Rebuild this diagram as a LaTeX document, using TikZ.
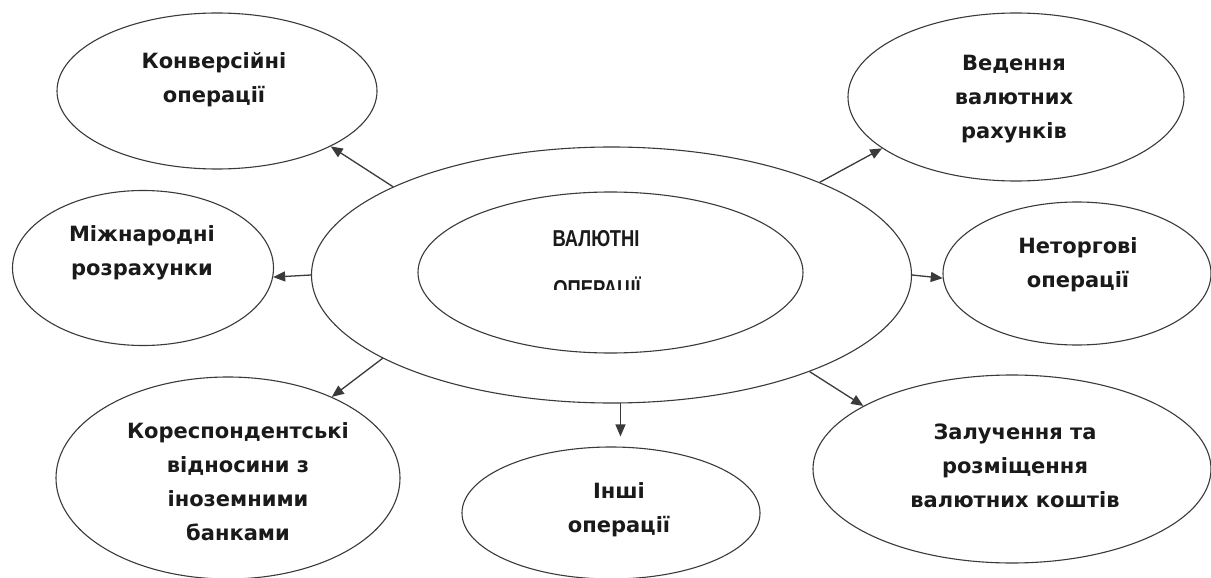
\documentclass[tikz,border=0pt]{standalone}
\usepackage{fontspec}
\setmainfont{DejaVu Sans}
\newfontfamily\ctrfont{Liberation Sans}[FakeStretch=0.8]
\usetikzlibrary{shapes.geometric,arrows.meta}
\definecolor{linegray}{HTML}{3A3A3A}
\definecolor{txt}{HTML}{1A1A1A}
\tikzset{
  oval/.style={ellipse, draw=linegray, line width=1.1pt, inner sep=0pt},
  lbl/.style={font=\fontsize{21}{34}\selectfont\bfseries, align=center, text=txt, inner sep=0pt},
  ctr/.style={font=\fontsize{23}{28}\selectfont\ctrfont\bfseries, text=txt, inner sep=0pt},
  arr/.style={draw=linegray, line width=1.3pt, -{Triangle[length=12pt,width=10pt]}}
}
\begin{document}
\begin{tikzpicture}[x=1pt,y=-1pt]
\useasboundingbox[fill=white] (0,0) rectangle (1211,578);
% ellipses
\node[oval, minimum width=600pt, minimum height=256pt] (outer) at (611.5,275) {};
\node[oval, minimum width=385pt, minimum height=161pt] (inner) at (610.5,272.5) {};
\node[oval, minimum width=320pt, minimum height=156pt] (konv) at (217,91) {};
\node[oval, minimum width=336pt, minimum height=168pt] (ved) at (1016,97) {};
\node[oval, minimum width=261pt, minimum height=155pt] (mizh) at (143,268) {};
\node[oval, minimum width=268pt, minimum height=143pt] (net) at (1077,273.5) {};
\node[oval, minimum width=344pt, minimum height=202pt] (kor) at (228,478) {};
\node[oval, minimum width=298pt, minimum height=132pt] (inshi) at (611,513) {};
\node[oval, minimum width=398pt, minimum height=188pt] (zal) at (1012,469) {};
% texts
\node[ctr] (t-ctr1) at (596,239) {ВАЛЮТНІ};
\begin{scope}
  \clip (540,260) rectangle (660,289);
  \node[ctr, anchor=base] (t-ctr2) at (597,296.5) {ОПЕРАЦІЇ};
\end{scope}
\node[lbl] (t-konv) at (214,80) {Конверсійні\\операції};
\node[lbl] (t-ved) at (1014,99) {Ведення\\валютних\\рахунків};
\node[lbl] (t-mizh) at (142,253) {Міжнародні\\розрахунки};
\node[lbl] (t-net) at (1078,265) {Неторгові\\операції};
\node[lbl] (t-kor) at (238,482) {Кореспондентські\\відносини з\\іноземними\\банками};
\node[lbl] (t-inshi) at (619,510) {Інші\\операції};
\node[lbl] (t-zal) at (1015,466) {Залучення та\\розміщення\\валютних коштів};
% connectors
\draw[arr] (outer.158) -- (konv.-26);
\draw[arr] (outer.24) -- (ved.201);
\draw[arr] (outer.180.8) -- (mizh.-4.5);
\draw[arr] (outer.-0.6) -- (net.182);
\draw[arr] (outer.200) -- (kor.38);
\draw[arr] (outer.-26.7) -- (zal.157.4);
\draw[arr, shorten >=10pt] (outer.-86.2) -- (outer.-86.2 |- inshi.north);
\end{tikzpicture}
\end{document}
